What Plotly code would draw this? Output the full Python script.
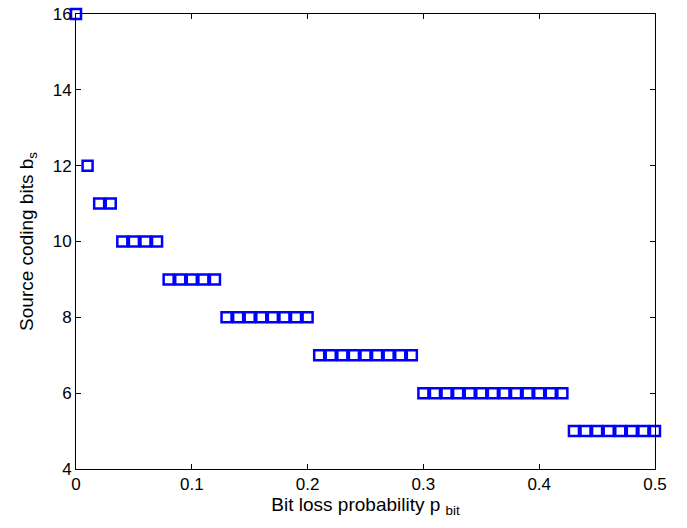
import plotly.graph_objects as go

p_bit = [round(0.01 * i, 2) for i in range(51)]
b_s = ([16] + [12] + [11] * 2 + [10] * 4 + [9] * 5 + [8] * 8 + [7] * 9 + [6] * 13 + [5] * 8)

x_ticks = [0, 0.1, 0.2, 0.3, 0.4, 0.5]
x_ticklabels = ["0", "0.1", "0.2", "0.3", "0.4", "0.5"]
y_ticks = [4, 6, 8, 10, 12, 14, 16]

fig = go.Figure()
fig.add_trace(go.Scatter(
    x=p_bit, y=b_s, mode="markers", cliponaxis=False,
    marker=dict(symbol="square-open", size=10, color="rgb(0,0,255)",
                line=dict(width=2.5, color="rgb(0,0,255)")),
    showlegend=False,
))

tick_font = dict(family="Liberation Sans, Arial, sans-serif", size=17, color="black")
title_font = dict(family="Liberation Sans, Arial, sans-serif", size=19, color="black")
axis_common = dict(showline=True, linecolor="black", linewidth=1, mirror="ticks",
                   ticks="inside", ticklen=5, tickcolor="black", showgrid=False,
                   zeroline=False, tickfont=tick_font, automargin=False)
fig.update_xaxes(range=[0, 0.5], tickvals=x_ticks, ticktext=x_ticklabels,
                 title=dict(text="Bit loss probability p <sub>bit</sub>", font=title_font, standoff=0),
                 **axis_common)
fig.update_yaxes(range=[4, 16], tickvals=y_ticks,
                 title=dict(text="Source coding bits b<sub>s</sub>", font=title_font, standoff=14),
                 **axis_common)
fig.update_layout(width=687, height=528, margin=dict(l=76, r=32, t=14, b=59),
                  plot_bgcolor="white", paper_bgcolor="white", font=tick_font)
fig.write_html("out.html")
